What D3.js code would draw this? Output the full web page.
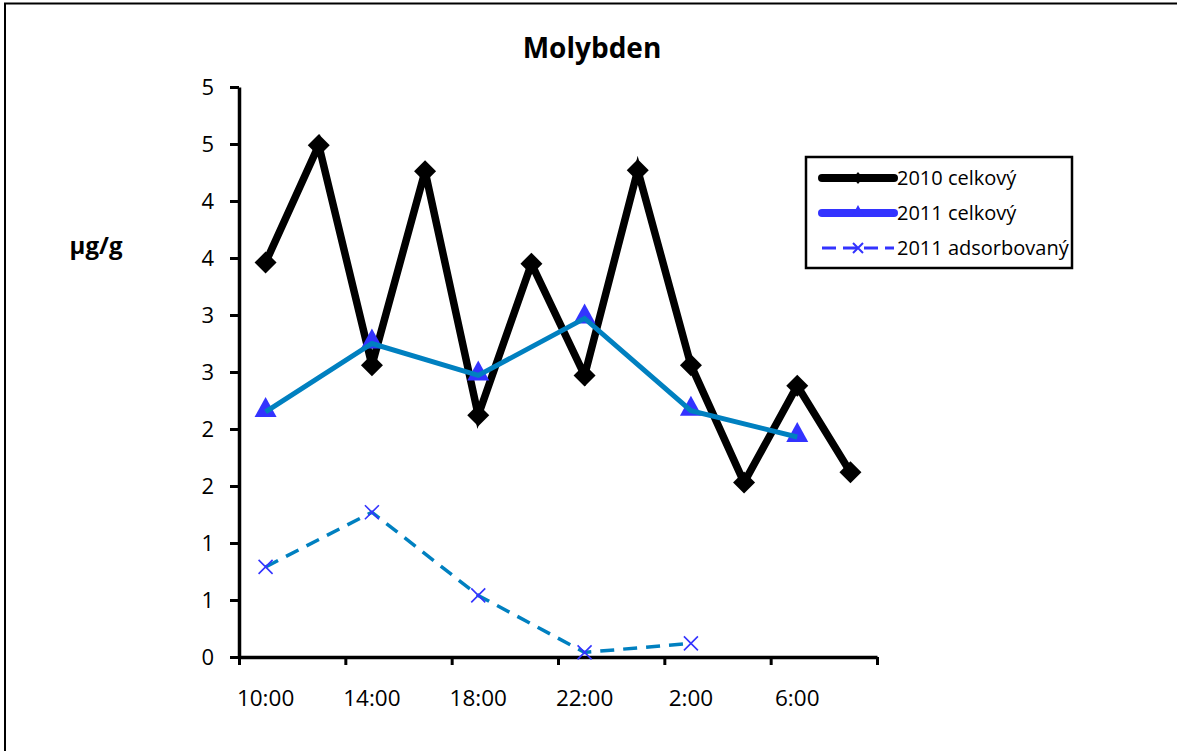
<!DOCTYPE html>
<html lang="cs">
  <head>
    <meta charset="UTF-8" />
    <title>Molybden</title>
    <script src="https://d3js.org/d3.v7.min.js"></script>
    <style>
      html, body {
        margin: 0;
        background: #fff;
        overflow: hidden;
        font-family: "Open Sans", sans-serif;
      }
      svg {
        display: block;
      }
      svg text {
        fill: #000;
      }
    </style>
  </head>
  <body>
    <svg id="chart" width="1300" height="751"></svg>
    <script>
      // hodnoty
      const categories = [
        "10:00", "12:00", "14:00", "16:00", "18:00", "20:00",
        "22:00", "0:00", "2:00", "4:00", "6:00", "8:00",
      ];
      const shownLabels = ["10:00", "14:00", "18:00", "22:00", "2:00", "6:00"];
      const total2010 = [3.46, 4.49, 2.56, 4.26, 2.12, 3.45, 2.47, 4.27, 2.56, 1.53, 2.38, 1.62];
      const total2011 = [2.15, null, 2.75, null, 2.47, null, 2.97, null, 2.16, null, 1.93, null];
      const adsorbed2011 = [0.79, null, 1.27, null, 0.54, null, 0.04, null, 0.12, null, null, null];
      const yTicks = [0, 0.5, 1, 1.5, 2, 2.5, 3, 3.5, 4, 4.5, 5];
      const yTickLabels = ["0", "1", "1", "2", "2", "3", "3", "4", "4", "5", "5"];

      const svg = d3.select("#chart");
      const plot = { left: 239, right: 877, top: 87, bottom: 657 };

      const x = d3.scaleBand().domain(categories).range([plot.left, plot.right]).padding(0);
      const xIdx = d3.scaleLinear().domain([0, categories.length]).range([plot.left, plot.right]);
      const y = d3.scaleLinear().domain([0, 5]).range([plot.bottom, plot.top]);
      const cx = (c) => x(c) + x.bandwidth() / 2;

      // rámeček (jen horní a levá hrana jsou vidět)
      svg.append("path")
        .attr("d", "M5,751V3.5H1300")
        .attr("fill", "none").attr("stroke", "#000").attr("stroke-width", 2);

      svg.append("text")
        .attr("x", 592).attr("y", 58)
        .attr("text-anchor", "middle")
        .style("font-size", "28px").style("font-weight", "bold")
        .text("Molybden");

      svg.append("text")
        .attr("x", 96).attr("y", 254)
        .attr("text-anchor", "middle")
        .style("font-size", "24px").style("font-weight", "bold")
        .text("µg/g");

      // osy
      const yAxis = svg.append("g")
        .attr("transform", `translate(${plot.left},0)`)
        .call(d3.axisLeft(y).tickValues(yTicks)
          .tickFormat((d, i) => yTickLabels[i])
          .tickSize(9).tickSizeOuter(0).tickPadding(16));

      const xAxis = svg.append("g")
        .attr("transform", `translate(0,${plot.bottom})`)
        .call(d3.axisBottom(xIdx).tickValues(d3.range(0, 13, 2))
          .tickFormat("").tickSize(8).tickSizeOuter(0));

      [yAxis, xAxis].forEach((g) => {
        g.select(".domain").attr("stroke-width", 3.5);
        g.selectAll(".tick line").attr("stroke-width", 3);
        g.selectAll("text").style("font-size", "22px").style("font-family", "Open Sans");
      });

      svg.append("g").selectAll("text")
        .data(shownLabels)
        .join("text")
        .attr("x", (d) => cx(d))
        .attr("y", 706)
        .attr("text-anchor", "middle")
        .style("font-size", "22.5px")
        .text((d) => d);

      const pts = (vals) =>
        categories.map((c, i) => ({ c, v: vals[i] })).filter((d) => d.v != null);

      const line = d3.line().x((d) => cx(d.c)).y((d) => y(d.v));

      const diamond = "M0,-11L11,0L0,11L-11,0Z";
      const triangle = "M0,-15L11,5L-11,5Z";
      const cross = "M-7,-7L7,7M7,-7L-7,7";

      // 2010 celkový
      svg.append("path")
        .datum(pts(total2010))
        .attr("d", line)
        .attr("fill", "none").attr("stroke", "#000")
        .attr("stroke-width", 7.5).attr("stroke-linejoin", "miter");
      svg.append("g").selectAll("path")
        .data(pts(total2010))
        .join("path")
        .attr("transform", (d) => `translate(${cx(d.c)},${y(d.v)})`)
        .attr("d", diamond).attr("fill", "#000");

      // 2011 celkový
      svg.append("g").selectAll("path")
        .data(pts(total2011))
        .join("path")
        .attr("transform", (d) => `translate(${cx(d.c)},${y(d.v)})`)
        .attr("d", triangle).attr("fill", "#3333ff");
      svg.append("path")
        .datum(pts(total2011))
        .attr("d", line)
        .attr("fill", "none").attr("stroke", "#0080c0")
        .attr("stroke-width", 5);

      // 2011 adsorbovaný
      svg.append("path")
        .datum(pts(adsorbed2011))
        .attr("d", line)
        .attr("fill", "none").attr("stroke", "#0080c0")
        .attr("stroke-width", 3.5).attr("stroke-dasharray", "14,9");
      svg.append("g").selectAll("path")
        .data(pts(adsorbed2011))
        .join("path")
        .attr("transform", (d) => `translate(${cx(d.c)},${y(d.v)})`)
        .attr("d", cross).attr("fill", "none")
        .attr("stroke", "#3333ff").attr("stroke-width", 1.6);

      // legenda
      const legend = svg.append("g").attr("transform", "translate(806,157)");
      legend.append("rect")
        .attr("width", 266).attr("height", 111)
        .attr("fill", "#fff").attr("stroke", "#000").attr("stroke-width", 2.5);

      const legendItems = [
        { name: "2010 celkový", color: "#000", width: 8, dash: null, marker: "M0,-6L5,0L0,6L-5,0Z", fill: true },
        { name: "2011 celkový", color: "#3333ff", width: 8, dash: null, marker: "M0,-8L6,3L-6,3Z", fill: true },
        { name: "2011 adsorbovaný", color: "#3333ff", width: 3, dash: "14,7", marker: "M-5,-5L5,5M5,-5L-5,5", fill: false },
      ];
      const item = legend.selectAll("g.item")
        .data(legendItems)
        .join("g")
        .attr("class", "item")
        .attr("transform", (d, i) => `translate(0,${21 + i * 35})`);
      item.append("line")
        .attr("x1", 16).attr("x2", 88)
        .attr("stroke", (d) => d.color)
        .attr("stroke-width", (d) => d.width)
        .attr("stroke-dasharray", (d) => d.dash)
        .attr("stroke-linecap", (d) => (d.dash ? "butt" : "round"));
      item.append("path")
        .attr("transform", "translate(52,0)")
        .attr("d", (d) => d.marker)
        .attr("fill", (d) => (d.fill ? d.color : "none"))
        .attr("stroke", (d) => (d.fill ? "none" : d.color))
        .attr("stroke-width", 2);
      item.append("text")
        .attr("x", 91).attr("y", 7)
        .style("font-size", "20px")
        .text((d) => d.name);
    </script>
  </body>
</html>
